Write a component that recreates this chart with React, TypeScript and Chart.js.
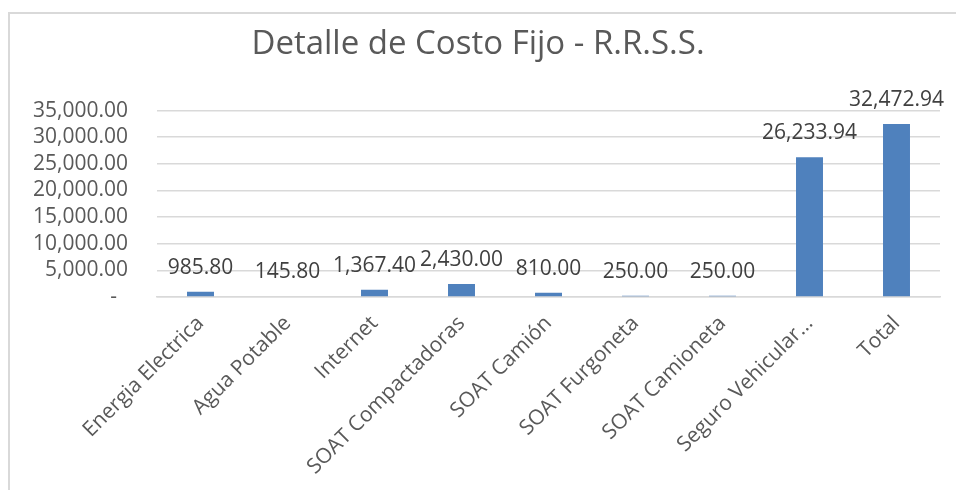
import React, { useEffect, useRef } from "react";
import { Chart, registerables } from "chart.js";

Chart.register(...registerables);

const chartTitle = "Detalle de Costo Fijo - R.R.S.S.";
const categories = [
  "Energia Electrica",
  "Agua Potable",
  "Internet",
  "SOAT Compactadoras",
  "SOAT Camión",
  "SOAT Furgoneta",
  "SOAT Camioneta",
  "Seguro Vehicular…",
  "Total",
];
const costValues = [985.8, 145.8, 1367.4, 2430.0, 810.0, 250.0, 250.0, 26233.94, 32472.94];
const yMin = 0;
const yMax = 35000;
const yStep = 5000;

const FONT = "'Open Sans', sans-serif";
const fmt = (v: number) =>
  v.toLocaleString("en-US", { minimumFractionDigits: 2, maximumFractionDigits: 2 });

const framePlugin = {
  id: "frame",
  beforeDraw(chart: any) {
    const ctx = chart.ctx;
    ctx.save();
    ctx.fillStyle = "#ffffff";
    ctx.fillRect(0, 0, chart.width, chart.height);
    ctx.fillStyle = "#d9d9d9";
    ctx.fillRect(8, 12, 2, chart.height - 12);
    ctx.fillRect(8, 12, chart.width - 8, 2);
    ctx.restore();
  },
};

const labelPlugin = {
  id: "barLabels",
  afterDatasetsDraw(chart: any) {
    const ctx = chart.ctx;
    const meta = chart.getDatasetMeta(0);
    const data = chart.data.datasets[0].data as number[];
    ctx.save();
    ctx.font = `21px ${FONT}`;
    ctx.fillStyle = "#404040";
    ctx.textAlign = "center";
    ctx.textBaseline = "middle";
    meta.data.forEach((el: any, i: number) => {
      ctx.fillText(fmt(data[i]), el.x, el.y - 24);
    });
    ctx.restore();
  },
};

export default function App() {
  const ref = useRef<HTMLCanvasElement>(null);
  useEffect(() => {
    if (!ref.current) return;
    const chart = new Chart(ref.current, {
      type: "bar",
      data: {
        labels: categories,
        datasets: [
          {
            data: costValues,
            backgroundColor: "#4f81bd",
            borderWidth: 0,
            barPercentage: 0.31,
            categoryPercentage: 1,
          },
        ],
      },
      options: {
        animation: false,
        responsive: false,
        maintainAspectRatio: false,
        layout: { padding: { left: 16, right: 16, top: 0, bottom: 0 } },
        plugins: {
          legend: { display: false },
          tooltip: { enabled: false },
          title: {
            display: true,
            text: chartTitle,
            color: "#595959",
            font: { family: FONT, size: 33, weight: "normal" },
            padding: { top: 25, bottom: 46 },
          },
        },
        scales: {
          x: {
            grid: { display: false, drawTicks: false },
            border: { display: true, color: "#d9d9d9", width: 1.5 },
            ticks: {
              color: "#595959",
              font: { family: FONT, size: 21 },
              maxRotation: 45,
              minRotation: 45,
              autoSkip: false,
              padding: 14,
            },
            afterFit(scale: any) {
              scale.height = 193;
            },
          },
          y: {
            min: yMin,
            max: yMax,
            grid: { color: "#d9d9d9", lineWidth: 1.5, drawTicks: false },
            border: { display: false },
            ticks: {
              stepSize: yStep,
              autoSkip: false,
              color: "#595959",
              font: { family: FONT, size: 21 },
              padding: 29,
              callback: (v: any) => (Number(v) === 0 ? "-  " : fmt(Number(v))),
            },
            afterFit(scale: any) {
              scale.width = 141;
            },
          },
        },
      },
      plugins: [framePlugin, labelPlugin],
    });
    return () => chart.destroy();
  }, []);
  return (
    <div style={{ position: "fixed", left: 0, top: 0, width: 956, height: 490 }}>
      <canvas ref={ref} width={956} height={490} style={{ width: 956, height: 490 }} />
    </div>
  );
}
